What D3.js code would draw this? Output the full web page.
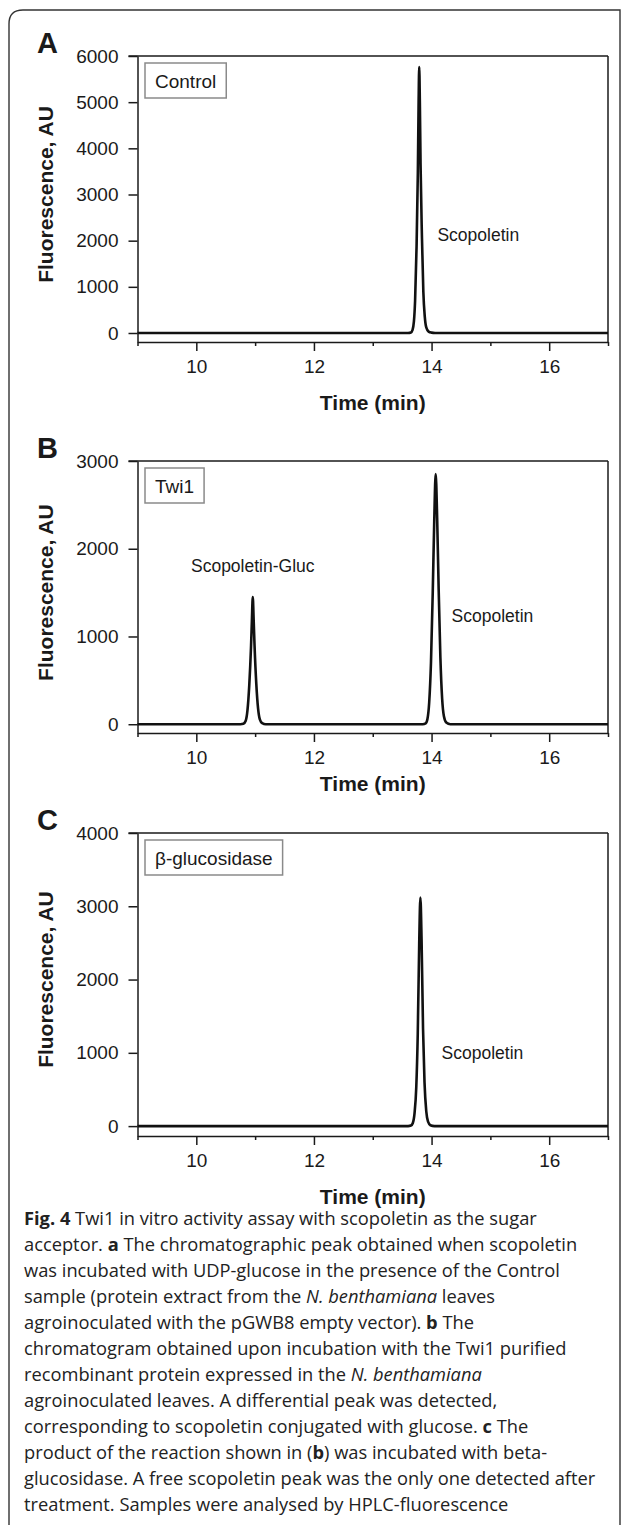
<!DOCTYPE html>
<html>
<head>
<meta charset="utf-8">
<script src="https://cdn.jsdelivr.net/npm/d3@7"></script>
<style>
  body { margin: 0; background: #fff; }
  svg { display: block; }
</style>
</head>
<body>
<div id="chart"></div>
<script>
// ---- values ----
const panelLetters = ["A", "B", "C"];
const sampleNames = ["Control", "Twi1", "β-glucosidase"];
const timeRange = [9, 17];
const timeTicks = [10, 12, 14, 16];
const timeMinorTicks = [9, 11, 13, 15, 17];
const yRanges = [[-195, 6000], [-100, 3000], [-135, 4000]];
const yTicks = [
  [0, 1000, 2000, 3000, 4000, 5000, 6000],
  [0, 1000, 2000, 3000],
  [0, 1000, 2000, 3000, 4000]
];

// chromatogram traces: [time (min), fluorescence (AU)]
const traceControl = [
  [9.0, 0], [13.6, 0], [13.65, 10], [13.675, 60], [13.7, 250], [13.72, 700],
  [13.745, 1870], [13.767, 3500], [13.779, 4900], [13.79, 5760], [13.801, 5000],
  [13.813, 3650], [13.837, 2050], [13.86, 900], [13.885, 350], [13.91, 120],
  [13.95, 30], [14.0, 8], [14.06, 0], [17.0, 0]
];
const traceTwi1 = [
  [9.0, 0], [10.75, 0], [10.8, 5], [10.84, 40], [10.87, 160], [10.9, 440],
  [10.93, 880], [10.945, 1180], [10.96, 1450], [10.975, 1190], [10.99, 900],
  [11.02, 460], [11.05, 180], [11.08, 55], [11.12, 12], [11.18, 0],
  [13.85, 0], [13.9, 10], [13.93, 60], [13.96, 250], [13.99, 700], [14.02, 1500],
  [14.045, 2300], [14.07, 2850], [14.095, 2350], [14.12, 1560], [14.15, 760],
  [14.18, 290], [14.21, 90], [14.25, 20], [14.32, 0], [17.0, 0]
];
const traceGlucosidase = [
  [9.0, 0], [13.6, 0], [13.65, 8], [13.68, 40], [13.71, 170], [13.74, 530],
  [13.765, 1250], [13.79, 2500], [13.81, 3120], [13.83, 2550], [13.855, 1330],
  [13.88, 600], [13.91, 200], [13.94, 60], [13.98, 12], [14.05, 0], [17.0, 0]
];
const traces = [traceControl, traceTwi1, traceGlucosidase];

// peak names: [panel, text, time, AU]
const peakLabels = [
  [0, "Scopoletin", 14.1, 2000],
  [1, "Scopoletin-Gluc", 10.96, 1730],
  [1, "Scopoletin", 14.34, 1160],
  [2, "Scopoletin", 14.17, 910]
];

const xTitle = "Time (min)";
const yTitle = "Fluorescence, AU";

const captionLines = [
  [["b", "Fig. 4"], ["n", " Twi1 in vitro activity assay with scopoletin as the sugar"]],
  [["n", "acceptor. "], ["b", "a"], ["n", " The chromatographic peak obtained when scopoletin"]],
  [["n", "was incubated with UDP-glucose in the presence of the Control"]],
  [["n", "sample (protein extract from the "], ["i", "N. benthamiana"], ["n", " leaves"]],
  [["n", "agroinoculated with the pGWB8 empty vector). "], ["b", "b"], ["n", " The"]],
  [["n", "chromatogram obtained upon incubation with the Twi1 purified"]],
  [["n", "recombinant protein expressed in the "], ["i", "N. benthamiana"]],
  [["n", "agroinoculated leaves. A differential peak was detected,"]],
  [["n", "corresponding to scopoletin conjugated with glucose. "], ["b", "c"], ["n", " The"]],
  [["n", "product of the reaction shown in ("], ["b", "b"], ["n", ") was incubated with beta-"]],
  [["n", "glucosidase. A free scopoletin peak was the only one detected after"]],
  [["n", "treatment. Samples were analysed by HPLC-fluorescence"]]
];

// ---- layout ----
const W = 625, H = 1525;
const plotLeft = 137.5, plotRight = 608;
const plotTops = [56, 461, 833];
const plotBottoms = [342, 733, 1136];
const xTitleGaps = [68, 58, 68];
const ink = "#1a1a1a";
const sansFont = "'Liberation Sans', Arial, Helvetica, sans-serif";

const svg = d3.select("#chart").append("svg")
  .attr("width", W)
  .attr("height", H)
  .style("font-family", sansFont);

svg.append("rect").attr("width", W).attr("height", H).attr("fill", "#fff");

// outer frame (rounded top-left corner, open at the bottom)
svg.append("path")
  .attr("d", `M9,${H} V24 Q9,10 23,10 H620 V${H}`)
  .attr("fill", "none")
  .attr("stroke", "#333")
  .attr("stroke-width", 1.4);

const x = d3.scaleLinear().domain(timeRange).range([plotLeft, plotRight]);

panelLetters.forEach((letter, i) => {
  const top = plotTops[i], bottom = plotBottoms[i];
  const y = d3.scaleLinear().domain(yRanges[i]).range([bottom, top]);
  const line = d3.line()
    .curve(d3.curveMonotoneX)
    .x(d => x(d[0]))
    .y(d => y(d[1]));
  const g = svg.append("g");

  // panel letter
  g.append("text")
    .attr("x", 37).attr("y", top - 3)
    .text(letter)
    .attr("fill", ink)
    .style("font-size", "29px")
    .style("font-weight", "bold");

  // top and right edges of the box
  g.append("line")
    .attr("x1", plotLeft - 9).attr("x2", plotRight)
    .attr("y1", top).attr("y2", top)
    .attr("stroke", ink).attr("stroke-width", 1.5);
  g.append("line")
    .attr("x1", plotRight).attr("x2", plotRight)
    .attr("y1", top).attr("y2", bottom)
    .attr("stroke", ink).attr("stroke-width", 1.5);

  // y axis
  g.append("g")
    .attr("transform", `translate(${plotLeft},0)`)
    .call(d3.axisLeft(y).tickValues(yTicks[i]).tickFormat(d3.format("d"))
      .tickSize(9).tickSizeOuter(0).tickPadding(10))
    .call(a => a.selectAll("line, path").attr("stroke", ink).attr("stroke-width", 1.5))
    .call(a => a.selectAll("text").attr("fill", ink)
      .style("font-size", "19px").style("font-family", sansFont));

  // x axis: labelled ticks and short minor ticks
  g.append("g")
    .attr("transform", `translate(0,${bottom})`)
    .call(d3.axisBottom(x).tickValues(timeTicks).tickSize(9).tickSizeOuter(0).tickPadding(9))
    .call(a => a.selectAll("line, path").attr("stroke", ink).attr("stroke-width", 1.5))
    .call(a => a.selectAll("text").attr("fill", ink)
      .style("font-size", "19px").style("font-family", sansFont));
  g.append("g")
    .attr("transform", `translate(0,${bottom})`)
    .call(d3.axisBottom(x).tickValues(timeMinorTicks).tickSize(4).tickSizeOuter(0).tickFormat(""))
    .call(a => a.select(".domain").remove())
    .call(a => a.selectAll("line").attr("stroke", ink).attr("stroke-width", 1.5));

  // axis titles
  g.append("text")
    .attr("x", (plotLeft + plotRight) / 2).attr("y", bottom + xTitleGaps[i])
    .attr("text-anchor", "middle")
    .text(xTitle)
    .attr("fill", ink)
    .style("font-size", "21px").style("font-weight", "bold");
  g.append("text")
    .attr("transform", `translate(53,${(y(0) + top) / 2}) rotate(-90)`)
    .attr("text-anchor", "middle")
    .text(yTitle)
    .attr("fill", ink)
    .style("font-size", "21px").style("font-weight", "bold");

  // sample name box
  const nameText = g.append("text")
    .attr("x", plotLeft + 17.5).attr("y", top + 32)
    .text(sampleNames[i])
    .attr("fill", ink)
    .style("font-size", "19px");
  const bb = nameText.node().getBBox();
  g.insert("rect", "text")
    .attr("x", plotLeft + 7.5).attr("y", top + 7)
    .attr("width", bb.width + 20).attr("height", 35)
    .attr("fill", "#fff")
    .attr("stroke", "#8a8a8a").attr("stroke-width", 1.5);

  // chromatogram trace
  g.append("path")
    .datum(traces[i])
    .attr("fill", "none")
    .attr("stroke", "#111")
    .attr("stroke-width", 2.6)
    .attr("stroke-linejoin", "round")
    .attr("d", line);

  // peak names
  peakLabels.filter(p => p[0] === i).forEach(p => {
    g.append("text")
      .attr("x", x(p[2])).attr("y", y(p[3]))
      .attr("text-anchor", p[1].includes("-") ? "middle" : "start")
      .text(p[1])
      .attr("fill", ink)
      .style("font-size", "17.5px");
  });
});

// caption
const cap = svg.append("text")
  .attr("x", 24)
  .style("font-family", "'Open Sans', 'Noto Sans', sans-serif")
  .style("font-size", "18.3px")
  .attr("fill", "#222");
captionLines.forEach((segs, k) => {
  segs.forEach((s, j) => {
    const t = cap.append("tspan").text(s[1]);
    if (j === 0) t.attr("x", 24).attr("y", 1225 + k * 26);
    if (s[0] === "b") t.style("font-weight", "bold");
    if (s[0] === "i") t.style("font-style", "italic");
  });
});
</script>
</body>
</html>
